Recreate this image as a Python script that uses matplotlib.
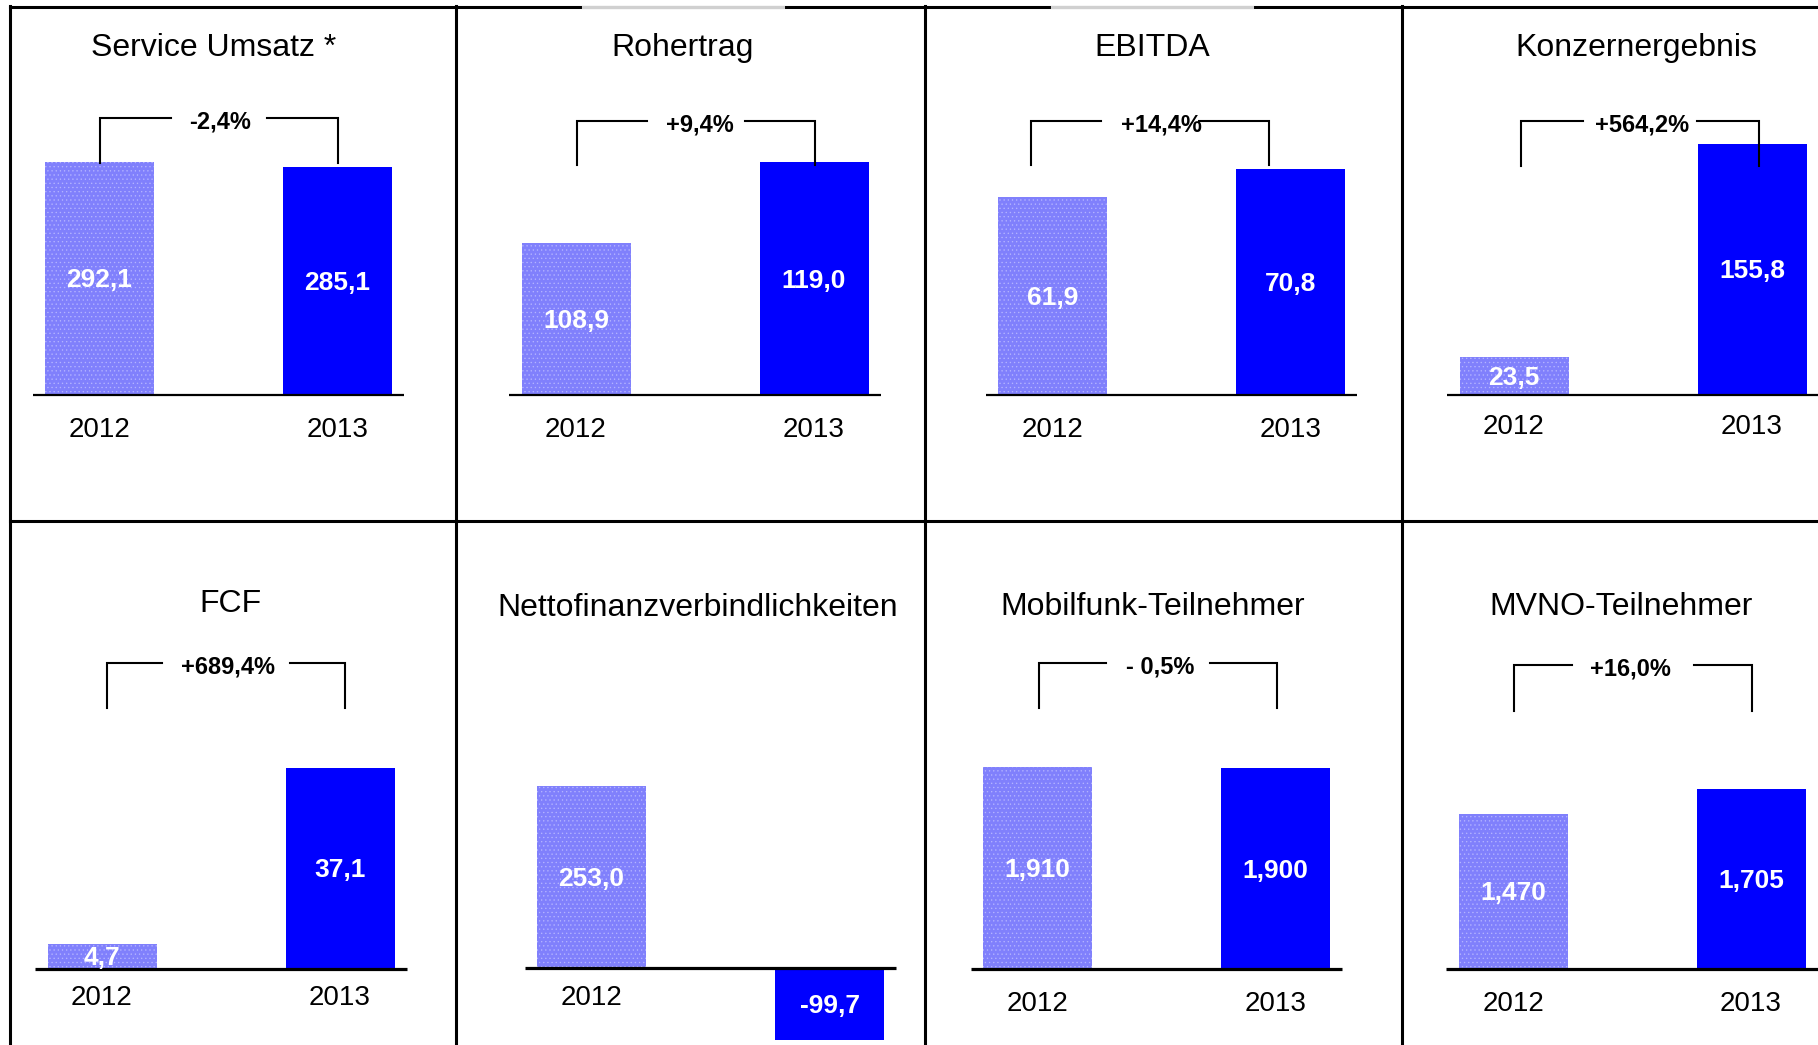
import matplotlib.pyplot as plt
import numpy as np

plt.rcParams['font.family'] = ['Liberation Sans', 'DejaVu Sans']
plt.rcParams['hatch.linewidth'] = 0.45

W, H = 1818, 1045

# data
titles = ["Service Umsatz *", "Rohertrag", "EBITDA", "Konzernergebnis",
          "FCF", "Nettofinanzverbindlichkeiten", "Mobilfunk-Teilnehmer", "MVNO-Teilnehmer"]
years = ["2012", "2013"]
values_2012 = [292.1, 108.9, 61.9, 23.5, 4.7, 253.0, 1.910, 1.470]
values_2013 = [285.1, 119.0, 70.8, 155.8, 37.1, -99.7, 1.900, 1.705]
decimals = [1, 1, 1, 1, 1, 1, 3, 3]
changes = ["-2,4%", "+9,4%", "+14,4%", "+564,2%", "+689,4%", None, "- 0,5%", "+16,0%"]
show_year = [[True, True]] * 5 + [[True, False]] + [[True, True]] * 2

# layout (pixels of the 1818x1045 canvas, y from top)
cells = [(10, 7, 456, 521), (456, 7, 925, 521), (925, 7, 1402, 521), (1402, 7, 1818, 521),
         (10, 521, 456, 1045), (456, 521, 925, 1045), (925, 521, 1402, 1045), (1402, 521, 1818, 1045)]
first_bar = [99.5, 576, 1052.5, 1514, 102, 591.5, 1037.5, 1513]
base_px = [395, 395, 395, 395, 969, 968, 969, 969]
px_per_unit = [0.798, 8.02, 3.195, 1.613, 5.42, 0.72, 105.7, 105.7]
axis_base = [0, 90, 0, 0, 0, 0, 0, 0]
bracket_top = [118, 121, 121, 121, 663, None, 663, 665]
bracket_leg = [163, 165, 165, 166, 708, None, 708, 711]
bracket_dx = [1, 1, -22, 7, 5, 0, 1, 1]
label_dx = [1, 4, 12, 2, 2, 0, 3, -3]
gap_half = [48, 49, 49, 57, 64, 0, 52, 61]
year_px = [430, 430, 430, 427, 998, 998, 1004, 1004]
title_x = [214, 683, 1152, 1636, 230, 698, 1153, 1621]
title_px = [48, 48, 48, 48, 604, 608, 607, 607]
STEP = 238.0      # px between bar centres
BAR_W = 109 / STEP

c_light = '#8080fc'
c_dark = '#0000ff'

fig = plt.figure(figsize=(W / 100, H / 100), dpi=100)

for i in range(8):
    x0, y0, x1, y1 = cells[i]
    ax = fig.add_axes([x0 / W, 1 - y1 / H, (x1 - x0) / W, (y1 - y0) / H])
    ax.axis('off')
    s = px_per_unit[i]
    b = axis_base[i]
    ax.set_xlim((x0 - first_bar[i]) / STEP, (x1 - first_bar[i]) / STEP)
    ax.set_ylim(b - (y1 - base_px[i]) / s, b + (base_px[i] - y0) / s)

    def yd(px):
        return b + (base_px[i] - px) / s

    vals = [values_2012[i], values_2013[i]]
    ax.bar(0, vals[0] - b, bottom=b, width=BAR_W, color=c_light, edgecolor='#b4b4ff',
           linewidth=0, hatch='....', zorder=2)
    ax.bar(1, vals[1] - b, bottom=b, width=BAR_W, color=c_dark, linewidth=0, zorder=2)

    lw = 1.6 if i < 4 else 2.3
    ax.plot([-0.28, 1.28], [b, b], color='black', lw=lw, zorder=3, solid_capstyle='butt')

    for k in range(2):
        txt = f"{vals[k]:.{decimals[i]}f}".replace('.', ',')
        ax.text(k, (b + vals[k]) / 2 - 2 / s, txt, ha='center', va='center',
                color='white', fontsize=19, fontweight='bold', zorder=4)
        if show_year[i][k]:
            ax.text(k, yd(year_px[i]), years[k], ha='center', va='center',
                    fontsize=20, color='black')

    ax.text((title_x[i] - first_bar[i]) / STEP, yd(title_px[i]), titles[i],
            ha='center', va='center', fontsize=23, color='black')

    if changes[i] is not None:
        yt, yl = yd(bracket_top[i]), yd(bracket_leg[i])
        d = bracket_dx[i] / STEP
        g = gap_half[i] / STEP
        kw = dict(color='black', lw=1.5, zorder=5, solid_joinstyle='miter')
        ax.plot([d, d, 0.5 + d - g], [yl, yt, yt], **kw)
        ax.plot([0.5 + d + g, 1 + d, 1 + d], [yt, yt, yl], **kw)
        ax.text(0.5 + d + label_dx[i] / STEP, yd(bracket_top[i] + 4), changes[i],
                ha='center', va='center', fontsize=17, fontweight='bold',
                color='black', zorder=6)

# panel frame lines
frame = fig.add_axes([0, 0, 1, 1], facecolor='none')
frame.set_xlim(0, W)
frame.set_ylim(H, 0)
frame.axis('off')
fl = 2.2
frame.plot([10, W], [7, 7], color='black', lw=fl)
frame.plot([583, 783], [7, 7], color='#d0d0d0', lw=fl)
frame.plot([1052, 1252], [7, 7], color='#d0d0d0', lw=fl)
frame.plot([10, W], [521, 521], color='black', lw=fl)
for xv in [10, 456, 925, 1402]:
    frame.plot([xv, xv], [6, H], color='black', lw=fl)

fig.savefig('out.png', dpi=100, facecolor='white')
